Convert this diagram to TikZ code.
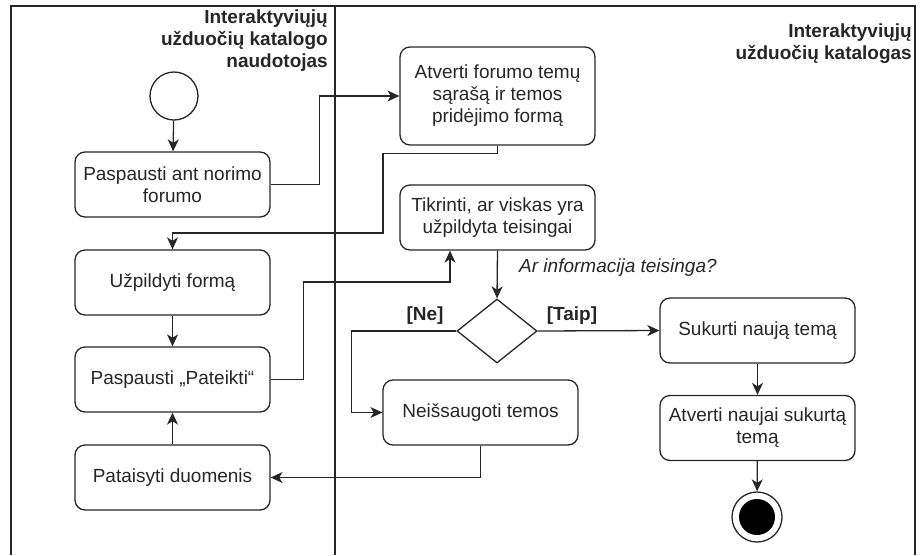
\documentclass[tikz,border=0pt]{standalone}
\usepackage{fontspec}
\setmainfont{Liberation Sans}
\usetikzlibrary{arrows.meta,shapes.geometric}
\begin{document}
\begin{tikzpicture}[x=1pt,y=-1pt,
  every node/.style={font=\fontsize{19}{22}\selectfont, text=black!85},
  act/.style={draw=black!85, rounded corners=10pt, line width=1.3pt,
    minimum width=195pt, minimum height=65pt, align=center, inner sep=2pt},
  flow/.style={draw=black!85, line width=1.3pt, -{Stealth[length=12pt,width=11pt,inset=3.5pt]}},
  lane/.style={draw=black!85, line width=1.5pt},
  lanelabel/.style={font=\bfseries\fontsize{19}{22}\selectfont, align=right, inner sep=0pt},
  guard/.style={font=\bfseries\fontsize{19}{22}\selectfont, inner sep=0pt},
  note/.style={font=\itshape\fontsize{19}{22}\selectfont, inner sep=0pt}
]
\useasboundingbox (0,0) rectangle (920,555);

% swimlanes
\draw[lane] (11,555) -- (11,6) -- (915,6) -- (915,555);
\draw[lane] (335,6) -- (335,555);
\node[lanelabel, anchor=north east] (userlane) at (328,10)
  {Interaktyviųjų\\užduočių katalogo\\naudotojas};
\node[lanelabel, anchor=north east] (syslane) at (912,24)
  {Interaktyviųjų\\užduočių katalogas};

% user actions
\node[draw=black!85, line width=1.3pt, circle, minimum size=48pt, inner sep=0pt] (start) at (174,96) {};
\node[act] (pick) at (172.5,184.5) {Paspausti ant norimo\\forumo};
\node[act] (fill) at (172.5,282.5) {Užpildyti formą};
\node[act] (submit) at (172.5,379.5) {Paspausti „Pateikti“};
\node[act] (fix) at (172.5,477.5) {Pataisyti duomenis};

% system actions
\node[act, minimum height=98pt] (open) at (497.5,96) {Atverti forumo temų\\sąrašą ir temos\\pridėjimo formą};
\node[act] (check) at (497.5,217.5) {Tikrinti, ar viskas yra\\užpildyta teisingai};
\node[draw=black!85, line width=1.3pt, diamond, minimum width=80pt, minimum height=64pt, inner sep=0pt, aspect=1.25] (valid) at (497,331) {};
\node[act] (create) at (757.5,330.5) {Sukurti naują temą};
\node[act] (show) at (757.5,428) {Atverti naujai sukurtą\\temą};
\node[act] (discard) at (480.5,412.5) {Neišsaugoti temos};
\node[draw=black!85, line width=1.3pt, circle, fill=white, minimum size=50pt, inner sep=0pt] (stop) at (757,517) {};
\node[circle, fill=black, minimum size=36pt, inner sep=0pt] (stopdot) at (stop.center) {};

% control flow
\draw[flow] (start) -- (pick);
\draw[flow] (pick.east) -- ++(49,0) |- (open.west);
\draw[flow] (open.south) -- ++(0,7.5) -| (383,233) -| (fill.north);
\draw[flow] (fill) -- (submit);
\coordinate (checkin) at ([xshift=-47.5pt]check.south);
\draw[flow] (submit.east) -- ++(33,0) -- ++(0,-97.5) -| (checkin);
\draw[flow] (check.south) -- (valid.north);
\draw[flow] (valid.east) -- (create.west);
\draw[flow] (valid.west) -- ++(-105,0) |- (discard.west);
\draw[flow] (discard.south) |- (fix.east);
\draw[flow] (fix) -- (submit);
\draw[flow] (create) -- (show);
\draw[flow] (show) -- (stop);

% guards
\node[note, anchor=west] (question) at (519,268) {Ar informacija teisinga?};
\node[guard] (no) at (425,316) {[Ne]};
\node[guard] (yes) at (572,316) {[Taip]};
\end{tikzpicture}
\end{document}
